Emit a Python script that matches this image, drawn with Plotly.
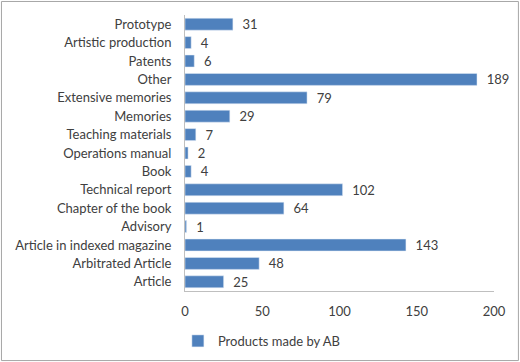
import plotly.graph_objects as go

categories = ["Article", "Arbitrated Article", "Article in indexed magazine", "Advisory",
              "Chapter of the book", "Technical report", "Book", "Operations manual",
              "Teaching materials", "Memories", "Extensive memories", "Other",
              "Patents", "Artistic production", "Prototype"]
values = [25, 48, 143, 1, 64, 102, 4, 2, 7, 29, 79, 189, 6, 4, 31]
series_name = "Products made by AB"
x_ticks = [0, 50, 100, 150, 200]

font_family = "Lato, Open Sans, sans-serif"
text_color = "#404040"

fig = go.Figure()
fig.add_trace(go.Bar(
    y=categories, x=values, orientation="h", name=series_name,
    marker=dict(color="#4F81BD"),
    texttemplate="\u00a0\u00a0%{x}", textposition="outside",
    constraintext="none",
    textfont=dict(size=13, color=text_color, family=font_family),
    cliponaxis=False, showlegend=True,
))

fig.update_layout(
    width=520, height=362,
    margin=dict(l=185, r=26, t=15, b=71, autoexpand=False),
    paper_bgcolor="white", plot_bgcolor="white",
    bargap=0.35,
    font=dict(family=font_family, size=13, color=text_color),
    xaxis=dict(range=[0, 200], tickvals=x_ticks, showgrid=False, zeroline=False,
               showline=True, linecolor="#BFBFBF", linewidth=1, automargin=False,
               ticks="", ticklabelstandoff=8, tickfont=dict(size=13)),
    yaxis=dict(showgrid=False, zeroline=False, showline=True, linecolor="#BFBFBF",
               linewidth=1, ticks="", ticklabelstandoff=10, tickfont=dict(size=13),
               automargin=False,
               categoryorder="array", categoryarray=categories),
    legend=dict(orientation="h", x=-0.023, y=-0.181, xanchor="left", yanchor="middle",
                font=dict(size=13), itemwidth=30),
    shapes=[dict(type="rect", xref="paper", yref="paper",
                 x0=-0.594, x1=1.079, y0=-0.252, y1=1.049,
                 line=dict(color="#A6A6A6", width=1))],
)

fig.write_html("out.html", config={"displayModeBar": False},
               post_script="document.body.style.margin='0px';")
